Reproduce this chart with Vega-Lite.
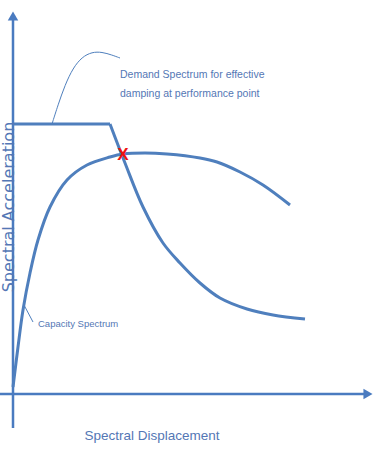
{
  "$schema": "https://vega.github.io/schema/vega-lite/v6.json",
  "width": 377,
  "height": 463,
  "padding": 0,
  "autosize": {"type": "none"},
  "background": "white",
  "config": {"view": {"stroke": null}},
  "datasets": {
    "capacity": [
      {"d": 0, "a": 7}, {"d": 5, "a": 47}, {"d": 10, "a": 84}, {"d": 17, "a": 121}, {"d": 25, "a": 154},
      {"d": 37, "a": 187}, {"d": 54, "a": 214}, {"d": 74, "a": 229}, {"d": 97, "a": 237}, {"d": 110, "a": 240},
      {"d": 132, "a": 241}, {"d": 154, "a": 240}, {"d": 187, "a": 236}, {"d": 204, "a": 232}, {"d": 227, "a": 222},
      {"d": 250, "a": 209}, {"d": 277, "a": 189}
    ],
    "demandFlat": [{"d": 0, "a": 270}, {"d": 97, "a": 270}],
    "demand": [
      {"d": 97, "a": 270}, {"d": 112, "a": 231}, {"d": 130, "a": 187}, {"d": 150, "a": 151}, {"d": 167, "a": 131},
      {"d": 187, "a": 111}, {"d": 207, "a": 96}, {"d": 234, "a": 85}, {"d": 260, "a": 79}, {"d": 292, "a": 75}
    ],
    "demandLeader": [
      {"d": 39, "a": 270}, {"d": 45, "a": 289}, {"d": 52, "a": 309}, {"d": 60, "a": 326}, {"d": 69, "a": 337},
      {"d": 79, "a": 342}, {"d": 89, "a": 342}, {"d": 99, "a": 339}, {"d": 107, "a": 336}
    ],
    "capacityLeader": [{"d": 11, "a": 89}, {"d": 20, "a": 72}],
    "yAxis": [{"d": 0, "a": -34}, {"d": 0, "a": 376}],
    "xAxis": [{"d": -13, "a": 0}, {"d": 352, "a": 0}]
  },
  "layer": [
    {
      "data": {"name": "yAxis"},
      "mark": {"type": "line", "color": "#4a7bc0", "strokeWidth": 2.5},
      "encoding": {
        "x": {"field": "d", "type": "quantitative", "scale": {"domain": [-13, 364], "nice": false, "zero": false}, "axis": null},
        "y": {"field": "a", "type": "quantitative", "scale": {"domain": [-69, 394], "nice": false, "zero": false}, "axis": null}
      }
    },
    {
      "data": {"name": "xAxis"},
      "mark": {"type": "line", "color": "#4a7bc0", "strokeWidth": 2.5},
      "encoding": {
        "x": {"field": "d", "type": "quantitative"},
        "y": {"field": "a", "type": "quantitative"}
      }
    },
    {
      "data": {"values": [{"d": 0, "a": 378, "s": "triangle-up"}, {"d": 355, "a": 0, "s": "triangle-right"}]},
      "mark": {"type": "point", "filled": true, "opacity": 1, "color": "#4a7bc0", "size": 110},
      "encoding": {
        "x": {"field": "d", "type": "quantitative"},
        "y": {"field": "a", "type": "quantitative"},
        "shape": {"field": "s", "type": "nominal", "scale": null}
      }
    },
    {
      "data": {"name": "capacity"},
      "mark": {"type": "line", "color": "#4f7fbd", "strokeWidth": 3, "interpolate": "catmull-rom"},
      "encoding": {
        "x": {"field": "d", "type": "quantitative"},
        "y": {"field": "a", "type": "quantitative"}
      }
    },
    {
      "data": {"name": "demandFlat"},
      "mark": {"type": "line", "color": "#4f7fbd", "strokeWidth": 3},
      "encoding": {
        "x": {"field": "d", "type": "quantitative"},
        "y": {"field": "a", "type": "quantitative"}
      }
    },
    {
      "data": {"name": "demand"},
      "mark": {"type": "line", "color": "#4f7fbd", "strokeWidth": 3, "interpolate": "catmull-rom"},
      "encoding": {
        "x": {"field": "d", "type": "quantitative"},
        "y": {"field": "a", "type": "quantitative"}
      }
    },
    {
      "data": {"name": "demandLeader"},
      "mark": {"type": "line", "color": "#4f7fbd", "strokeWidth": 1, "interpolate": "basis"},
      "encoding": {
        "x": {"field": "d", "type": "quantitative"},
        "y": {"field": "a", "type": "quantitative"}
      }
    },
    {
      "data": {"name": "capacityLeader"},
      "mark": {"type": "line", "color": "#4f7fbd", "strokeWidth": 1},
      "encoding": {
        "x": {"field": "d", "type": "quantitative"},
        "y": {"field": "a", "type": "quantitative"}
      }
    },
    {
      "data": {"values": [{"d": 110, "a": 239, "t": "X"}]},
      "mark": {"type": "text", "color": "#ee1111", "fontSize": 17, "fontWeight": "bold", "font": "Liberation Sans", "baseline": "middle", "align": "center"},
      "encoding": {
        "x": {"field": "d", "type": "quantitative"},
        "y": {"field": "a", "type": "quantitative"},
        "text": {"field": "t"}
      }
    },
    {
      "data": {"values": [
        {"d": 107, "a": 316, "t": "Demand Spectrum for effective"},
        {"d": 107, "a": 297, "t": "damping at performance point"}
      ]},
      "mark": {"type": "text", "color": "#5477b5", "fontSize": 10.5, "font": "Liberation Sans", "align": "left", "baseline": "alphabetic"},
      "encoding": {
        "x": {"field": "d", "type": "quantitative"},
        "y": {"field": "a", "type": "quantitative"},
        "text": {"field": "t"}
      }
    },
    {
      "data": {"values": [{"d": 25, "a": 67, "t": "Capacity Spectrum"}]},
      "mark": {"type": "text", "color": "#5477b5", "fontSize": 9.5, "font": "Liberation Sans", "align": "left", "baseline": "alphabetic"},
      "encoding": {
        "x": {"field": "d", "type": "quantitative"},
        "y": {"field": "a", "type": "quantitative"},
        "text": {"field": "t"}
      }
    },
    {
      "data": {"values": [{"d": 139, "a": -46, "t": "Spectral Displacement"}]},
      "mark": {"type": "text", "color": "#5477b5", "fontSize": 13.5, "font": "Liberation Sans", "align": "center", "baseline": "alphabetic"},
      "encoding": {
        "x": {"field": "d", "type": "quantitative"},
        "y": {"field": "a", "type": "quantitative"},
        "text": {"field": "t"}
      }
    },
    {
      "data": {"values": [{"d": -4, "a": 187, "t": "Spectral Acceleration"}]},
      "mark": {"type": "text", "color": "#5477b5", "fontSize": 16, "font": "DejaVu Sans", "align": "center", "baseline": "middle", "angle": 270},
      "encoding": {
        "x": {"field": "d", "type": "quantitative"},
        "y": {"field": "a", "type": "quantitative"},
        "text": {"field": "t"}
      }
    }
  ]
}
